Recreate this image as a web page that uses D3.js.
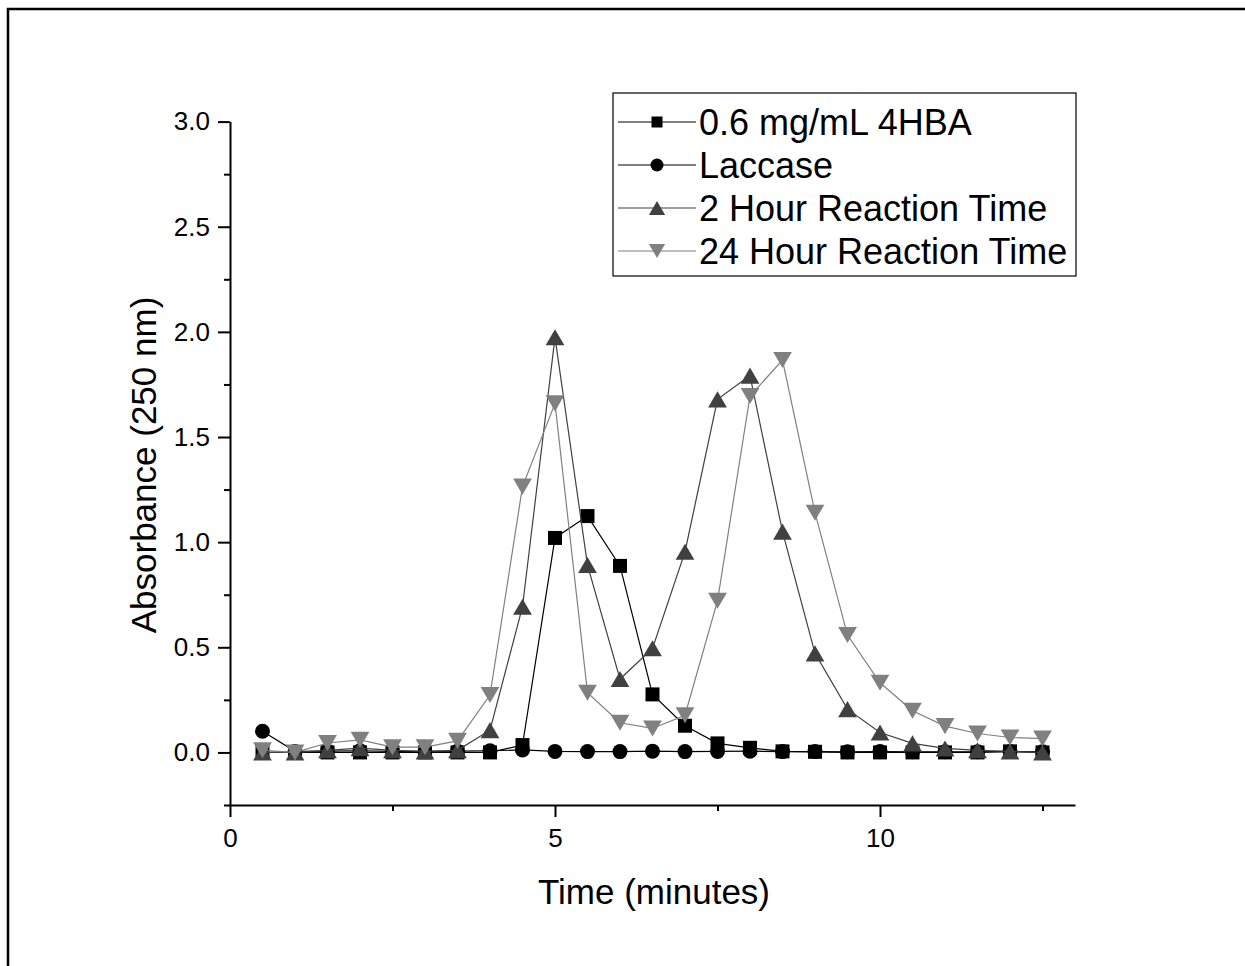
<!DOCTYPE html>
<html>
<head>
<meta charset="utf-8">
<script src="https://cdn.jsdelivr.net/npm/d3@7"></script>
<style>
  body { margin: 0; background: #fff; }
  svg { display: block; font-family: "Liberation Sans", Arial, sans-serif; }
</style>
</head>
<body>
<svg id="chart" width="1245" height="966"></svg>
<script>
const time = [0.5, 1, 1.5, 2, 2.5, 3, 3.5, 4, 4.5, 5, 5.5, 6, 6.5, 7, 7.5, 8, 8.5, 9, 9.5, 10, 10.5, 11, 11.5, 12, 12.5]

const hba = [0, 0, 0, 0, 0, 0, 0, 0, 0.035, 1.02, 1.124, 0.887, 0.276, 0.127, 0.043, 0.022, 0.005, 0.003, 0, 0, 0, 0, 0, 0.005, 0]
const laccase = [0.101, 0.005, 0.006, 0.008, 0.005, 0.005, 0.006, 0.008, 0.012, 0.005, 0.004, 0.004, 0.006, 0.004, 0.005, 0.006, 0.004, 0.004, 0.003, 0.004, 0.003, 0.003, 0.003, 0.004, 0.003]
const hour2 = [0, 0, 0.01, 0.02, 0.01, 0.005, 0.01, 0.106, 0.693, 1.974, 0.891, 0.349, 0.495, 0.954, 1.679, 1.792, 1.05, 0.471, 0.206, 0.095, 0.043, 0.019, 0.01, 0.005, 0]
const hour24 = [0.01, 0, 0.045, 0.06, 0.025, 0.025, 0.055, 0.273, 1.264, 1.66, 0.284, 0.141, 0.114, 0.177, 0.721, 1.695, 1.866, 1.14, 0.558, 0.331, 0.198, 0.125, 0.09, 0.071, 0.066]

const seriesNames = ['0.6 mg/mL 4HBA', 'Laccase', '2 Hour Reaction Time', '24 Hour Reaction Time']
const xTicks = [0, 5, 10]
const xMinor = [2.5, 7.5, 12.5]
const yTicks = [0, 0.5, 1, 1.5, 2, 2.5, 3]
const yMinor = [-0.25, 0.25, 0.75, 1.25, 1.75, 2.25, 2.75]

const series = [
  {name: seriesNames[0], values: hba, shape: 'square', color: '#000', line: '#000'},
  {name: seriesNames[1], values: laccase, shape: 'circle', color: '#000', line: '#000'},
  {name: seriesNames[2], values: hour2, shape: 'up', color: '#404040', line: '#404040'},
  {name: seriesNames[3], values: hour24, shape: 'down', color: '#808080', line: '#808080'}
]

const svg = d3.select('#chart')

// page frame
svg.append('rect')
  .attr('x', 8).attr('y', 9)
  .attr('width', 1400).attr('height', 1100)
  .attr('fill', 'none')
  .attr('stroke', '#000')
  .attr('stroke-width', 2.5)

const x = d3.scaleLinear().domain([0, 13]).range([230, 1075])
const y = d3.scaleLinear().domain([-0.25, 3]).range([805, 121.6])

function marker(shape, s) {
  if(shape === 'square') return `M${-s/2},${-s/2}h${s}v${s}h${-s}Z`
  if(shape === 'circle') {
    const r = s / 2
    return `M${r},0A${r},${r} 0 1,1 ${-r},0A${r},${r} 0 1,1 ${r},0Z`
  }
  const w = s * 1.25, h = s * 1.07
  if(shape === 'up') return `M0,${-h/2}L${w/2},${h/2}L${-w/2},${h/2}Z`
  return `M0,${h/2}L${w/2},${-h/2}L${-w/2},${-h/2}Z`
}

const markerSize = {square: 14, circle: 15, up: 15, down: 15}

// axes
const xAxis = svg.append('g')
  .attr('transform', `translate(0,${y(-0.25)})`)
  .call(d3.axisBottom(x).tickValues(xTicks).tickFormat(d3.format('d')).tickSizeInner(12).tickSizeOuter(0).tickPadding(12))
xAxis.append('g')
  .call(d3.axisBottom(x).tickValues(xMinor).tickFormat('').tickSizeInner(6).tickSizeOuter(0))
  .select('.domain').remove()

const yAxis = svg.append('g')
  .attr('transform', `translate(${x(0)},0)`)
  .call(d3.axisLeft(y).tickValues(yTicks).tickFormat(d3.format('.1f')).tickSizeInner(12).tickSizeOuter(0).tickPadding(8))
yAxis.append('g')
  .call(d3.axisLeft(y).tickValues(yMinor).tickFormat('').tickSizeInner(6).tickSizeOuter(0))
  .select('.domain').remove()

svg.selectAll('.domain, .tick line')
  .attr('stroke', '#000')
  .attr('stroke-width', 2)
svg.selectAll('.tick text')
  .attr('font-size', 26)
  .attr('fill', '#000')
  .attr('font-family', '"Liberation Sans", Arial, sans-serif')

// axis titles
svg.append('text')
  .attr('x', 654).attr('y', 904)
  .attr('text-anchor', 'middle')
  .attr('font-size', 35)
  .text('Time (minutes)')

svg.append('text')
  .attr('transform', `translate(156,465) rotate(-90)`)
  .attr('text-anchor', 'middle')
  .attr('font-size', 35)
  .text('Absorbance (250 nm)')

// series
const line = d3.line()
  .x((d, i) => x(time[i]))
  .y(d => y(d))

series.forEach(s => {
  const g = svg.append('g')
  g.append('path')
    .attr('d', line(s.values))
    .attr('fill', 'none')
    .attr('stroke', s.line)
    .attr('stroke-width', 1.2)
  g.selectAll('path.pt')
    .data(s.values)
    .join('path')
    .attr('class', 'pt')
    .attr('transform', (d, i) => `translate(${x(time[i])},${y(d)})`)
    .attr('d', marker(s.shape, markerSize[s.shape]))
    .attr('fill', s.color)
})

// legend
const legend = svg.append('g')
legend.append('rect')
  .attr('x', 613).attr('y', 93)
  .attr('width', 463).attr('height', 183)
  .attr('fill', '#fff')
  .attr('stroke', '#000')
  .attr('stroke-width', 1.2)

const legendSize = {square: 11, circle: 13, up: 13, down: 13}
series.forEach((s, i) => {
  const cy = 122 + i * 43
  legend.append('line')
    .attr('x1', 618).attr('x2', 696)
    .attr('y1', cy).attr('y2', cy)
    .attr('stroke', s.line)
    .attr('stroke-width', 1.2)
  legend.append('path')
    .attr('transform', `translate(657,${cy})`)
    .attr('d', marker(s.shape, legendSize[s.shape]))
    .attr('fill', s.color)
  legend.append('text')
    .attr('x', 699).attr('y', cy)
    .attr('dy', '0.35em')
    .attr('font-size', 36)
    .text(s.name)
})
</script>
</body>
</html>
